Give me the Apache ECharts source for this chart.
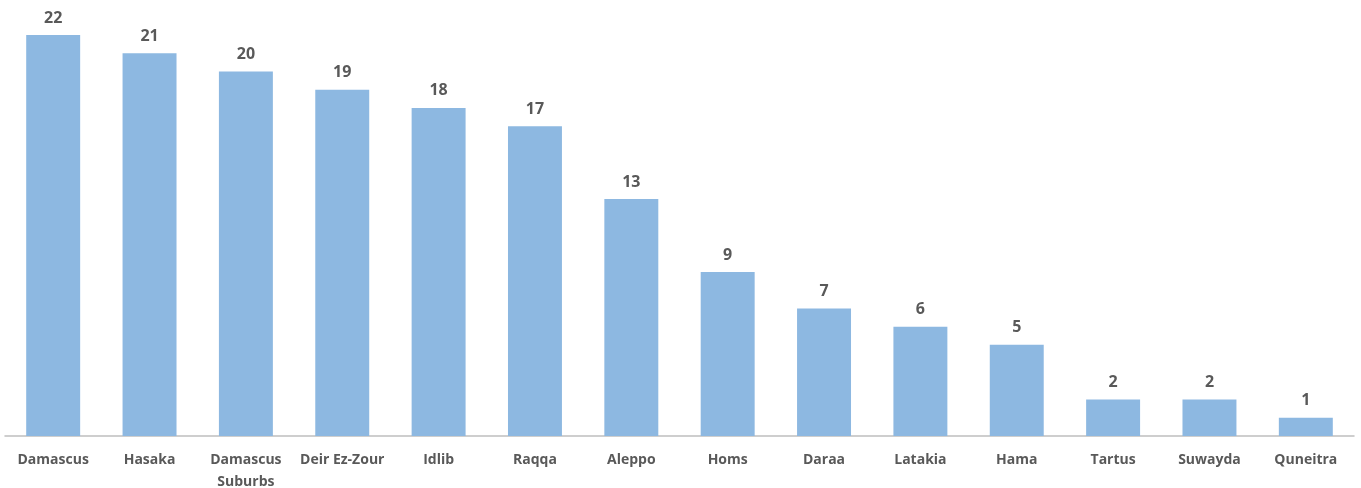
<!DOCTYPE html>
<html>
<head>
<meta charset="utf-8">
<script src="https://cdn.jsdelivr.net/npm/echarts@6/dist/echarts.min.js"></script>
<style>
  html, body { margin: 0; padding: 0; background: #fff; }
  #chart { width: 1361px; height: 488px; }
</style>
</head>
<body>
<div id="chart"></div>
<script>
// governorates and their values
var governorates = ['Damascus', 'Hasaka', 'Damascus\nSuburbs', 'Deir Ez-Zour', 'Idlib', 'Raqqa',
  'Aleppo', 'Homs', 'Daraa', 'Latakia', 'Hama', 'Tartus', 'Suwayda', 'Quneitra'];
var counts = [22, 21, 20, 19, 18, 17, 13, 9, 7, 6, 5, 2, 2, 1];

var myChart = echarts.init(document.getElementById('chart'));
myChart.setOption({
  animation: false,
  grid: { left: 5, right: 7, top: 35, bottom: 52, outerBoundsMode: 'none', containLabel: false },
  xAxis: {
    type: 'category',
    data: governorates,
    axisLine: { lineStyle: { color: '#bfbfbf', width: 1.5 } },
    axisTick: { show: false },
    axisLabel: {
      interval: 0,
      margin: 13,
      color: '#595959',
      fontFamily: 'Open Sans',
      fontWeight: 'bold',
      fontSize: 14,
      lineHeight: 22
    }
  },
  yAxis: {
    type: 'value',
    min: 0,
    max: 22,
    show: false,
    splitLine: { show: false }
  },
  series: [
    {
      type: 'bar',
      data: counts,
      barWidth: '56%',
      itemStyle: { color: '#8db8e1' },
      label: {
        show: true,
        position: 'top',
        distance: 9,
        color: '#595959',
        fontFamily: 'Open Sans',
        fontWeight: 'bold',
        fontSize: 16
      }
    }
  ]
});
</script>
</body>
</html>
